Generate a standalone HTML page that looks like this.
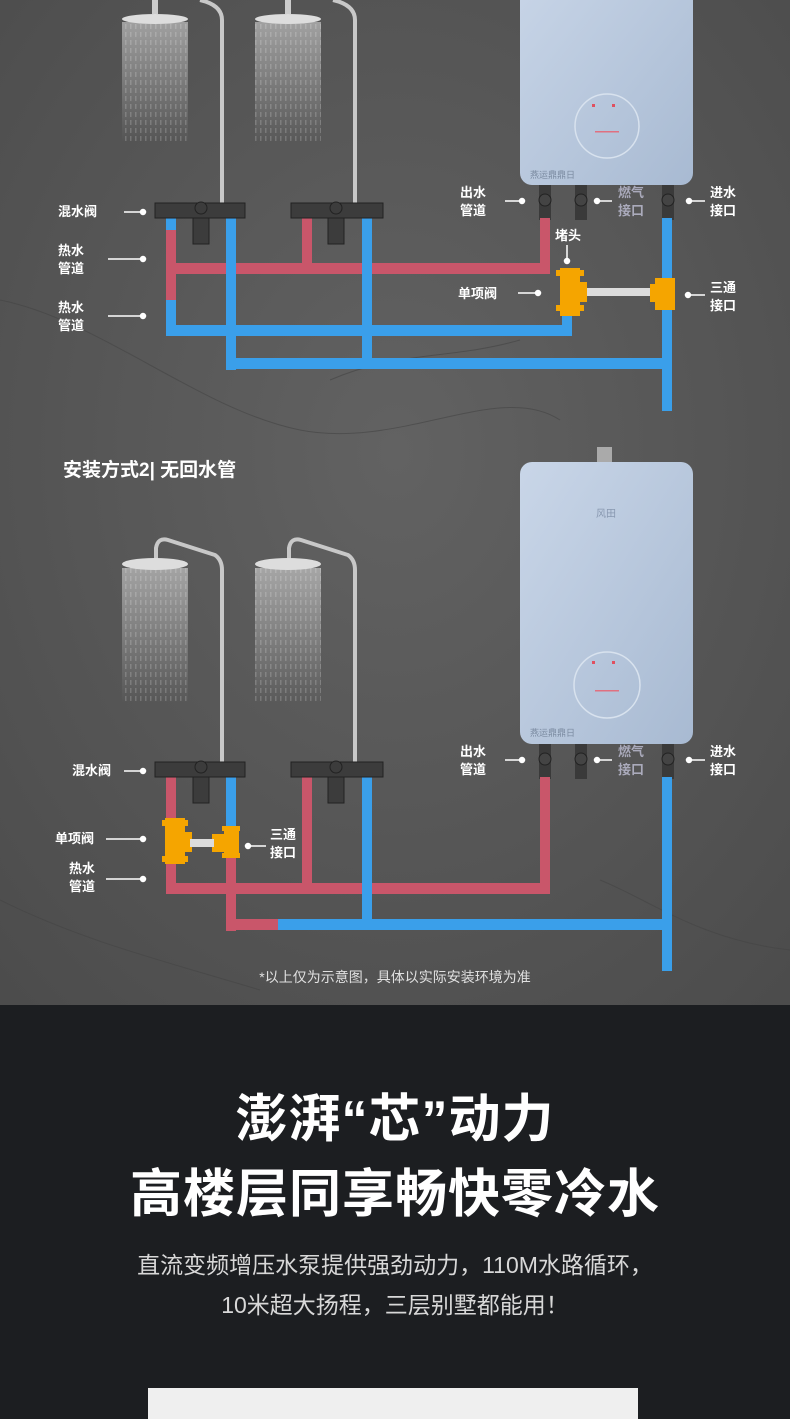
<!DOCTYPE html>
<html><head><meta charset="utf-8"><style>
*{margin:0;padding:0}
body{width:790px;height:1419px;overflow:hidden;background:#1c1e21;font-family:"Liberation Sans","Noto Sans CJK SC",sans-serif}
.dk{position:absolute;left:0;top:1005px;width:790px;height:414px;background:#1c1e21}
.t{position:absolute;left:0;width:790px;text-align:center;color:#fff;font-weight:bold;font-size:52px;letter-spacing:1px;line-height:60px}
.s{position:absolute;left:0;width:790px;text-align:center;color:#d8d8d8;font-size:23px;line-height:30px}
</style></head><body>
<svg width="790" height="1005" style="position:absolute;left:0;top:0" font-family="Liberation Sans, Noto Sans CJK SC, sans-serif">
<defs>
<radialGradient id="bg" cx="0.5" cy="0.45" r="0.8"><stop offset="0" stop-color="#626262"/><stop offset="1" stop-color="#4a4a4a"/></radialGradient>
<linearGradient id="ht" x1="0" y1="0" x2="1" y2="1"><stop offset="0" stop-color="#c9d6e8"/><stop offset="1" stop-color="#a8bad2"/></linearGradient>
<linearGradient id="rain" x1="0" y1="0" x2="0" y2="1"><stop offset="0" stop-color="#fff" stop-opacity="0.45"/><stop offset="1" stop-color="#fff" stop-opacity="0"/></linearGradient>
<pattern id="drops" width="5" height="8" patternUnits="userSpaceOnUse"><rect width="1.5" height="5" fill="#fff" opacity="0.5"/></pattern>
</defs>
<rect width="790" height="1005" fill="url(#bg)"/>
<g fill="none" stroke="#444" stroke-width="1" opacity="0.6">
<path d="M0 300 C100 320 200 410 300 430 S500 380 560 420"/>
<path d="M330 380 C400 350 450 360 520 340"/>
<path d="M0 900 C80 940 160 960 260 990"/>
<path d="M600 880 C650 900 700 940 790 950"/>
</g>

<rect x="122" y="22" width="66" height="120" fill="url(#rain)"/>
<rect x="122" y="22" width="66" height="120" fill="url(#drops)" opacity="0.35"/>
<rect x="255" y="22" width="66" height="120" fill="url(#rain)"/>
<rect x="255" y="22" width="66" height="120" fill="url(#drops)" opacity="0.35"/>
<rect x="152" y="0" width="6" height="14" fill="#ccc"/>
<ellipse cx="155" cy="19" rx="33" ry="5" fill="#ddd"/>
<rect x="285" y="0" width="6" height="14" fill="#ccc"/>
<ellipse cx="288" cy="19" rx="33" ry="5" fill="#ddd"/>
<path d="M200 0 Q222 5 222 20 L222 205" stroke="#c8c8c8" stroke-width="4" fill="none"/>
<path d="M333 0 Q355 5 355 20 L355 205" stroke="#c8c8c8" stroke-width="4" fill="none"/>
<rect x="520" y="-40" width="173" height="225" rx="12" fill="url(#ht)"/>
<circle cx="607" cy="126" r="32" fill="none" stroke="#d8e2ee" stroke-width="1.5"/>
<rect x="592" y="104" width="3" height="3" fill="#e05060"/><rect x="612" y="104" width="3" height="3" fill="#e05060"/>
<rect x="595" y="131" width="24" height="1.5" fill="#e07080"/>
<text x="530" y="178" font-size="9" fill="#7a8aa0">燕运鼎鼎日</text>
<g fill="#3a3a3a"><rect x="539" y="185" width="12" height="35"/><rect x="575" y="185" width="12" height="35"/><rect x="662" y="185" width="12" height="35"/></g>
<g fill="#444" stroke="#222"><circle cx="545" cy="200" r="6"/><circle cx="581" cy="200" r="6"/><circle cx="668" cy="200" r="6"/></g>
<g fill="#c9566a">
<rect x="166" y="230" width="10" height="72"/>
<rect x="166" y="263" width="384" height="11"/>
<rect x="540" y="218" width="10" height="56"/>
<rect x="302" y="218" width="10" height="50"/>
</g>
<g fill="#3a9fea">
<rect x="166" y="218" width="10" height="12"/>
<rect x="166" y="300" width="10" height="36"/>
<rect x="166" y="325" width="406" height="11"/>
<rect x="562" y="310" width="10" height="26"/>
<rect x="226" y="218" width="10" height="152"/>
<rect x="362" y="218" width="10" height="148"/>
<rect x="226" y="358" width="446" height="11"/>
<rect x="662" y="218" width="10" height="193"/>
</g>
<g fill="#3c3c3c" stroke="#222" stroke-width="1">
<rect x="155" y="203" width="90" height="15"/><rect x="193" y="218" width="16" height="26"/><circle cx="201" cy="208" r="6"/>
<rect x="291" y="203" width="92" height="15"/><rect x="328" y="218" width="16" height="26"/><circle cx="336" cy="208" r="6"/>
</g>
<g fill="#f5a500">
<rect x="560" y="268" width="20" height="48"/><rect x="556" y="270" width="28" height="6"/><rect x="556" y="305" width="28" height="6"/><rect x="575" y="282" width="12" height="20"/>
<rect x="655" y="278" width="20" height="32"/><rect x="650" y="284" width="10" height="18"/>
</g>
<rect x="587" y="288" width="63" height="8" fill="#dcdcdc"/>
<g font-size="13" fill="#fff" font-weight="bold">
<text x="58" y="216">混水阀</text>
<text x="58" y="255">热水</text><text x="58" y="273">管道</text>
<text x="58" y="312">热水</text><text x="58" y="330">管道</text>
<text x="460" y="197">出水</text><text x="460" y="215">管道</text>
<text x="618" y="197" fill="#aab">燃气</text><text x="618" y="215" fill="#aab">接口</text>
<text x="710" y="197">进水</text><text x="710" y="215">接口</text>
<text x="555" y="240">堵头</text>
<text x="458" y="298">单项阀</text>
<text x="710" y="292">三通</text><text x="710" y="310">接口</text>
</g>
<g stroke="#fff" stroke-width="1.5" fill="#fff">
<line x1="124" y1="212" x2="143" y2="212"/><circle cx="143" cy="212" r="2.5"/>
<line x1="108" y1="259" x2="143" y2="259"/><circle cx="143" cy="259" r="2.5"/>
<line x1="108" y1="316" x2="143" y2="316"/><circle cx="143" cy="316" r="2.5"/>
<line x1="505" y1="201" x2="522" y2="201"/><circle cx="522" cy="201" r="2.5"/>
<line x1="597" y1="201" x2="612" y2="201"/><circle cx="597" cy="201" r="2.5"/>
<line x1="689" y1="201" x2="705" y2="201"/><circle cx="689" cy="201" r="2.5"/>
<line x1="567" y1="245" x2="567" y2="261"/><circle cx="567" cy="261" r="2.5"/>
<line x1="518" y1="293" x2="538" y2="293"/><circle cx="538" cy="293" r="2.5"/>
<line x1="688" y1="295" x2="705" y2="295"/><circle cx="688" cy="295" r="2.5"/>
</g>

<text x="63" y="476" font-size="19" font-weight="bold" fill="#fff">安装方式2| 无回水管</text>
<rect x="597" y="447" width="15" height="16" fill="#aaa"/>
<rect x="520" y="462" width="173" height="282" rx="12" fill="url(#ht)"/>
<text x="596" y="517" font-size="10" fill="#8898b0">风田</text>
<circle cx="607" cy="685" r="33" fill="none" stroke="#d8e2ee" stroke-width="1.5"/>
<rect x="592" y="661" width="3" height="3" fill="#e05060"/><rect x="612" y="661" width="3" height="3" fill="#e05060"/>
<rect x="595" y="690" width="24" height="1.5" fill="#e07080"/>
<text x="530" y="736" font-size="9" fill="#7a8aa0">燕运鼎鼎日</text>
<rect x="122" y="568" width="66" height="135" fill="url(#rain)"/>
<rect x="122" y="568" width="66" height="135" fill="url(#drops)" opacity="0.35"/>
<rect x="255" y="568" width="66" height="135" fill="url(#rain)"/>
<rect x="255" y="568" width="66" height="135" fill="url(#drops)" opacity="0.35"/>
<path d="M156 560 L156 548 Q158 537 168 540 L215 555 Q222 560 222 570 L222 764" stroke="#c8c8c8" stroke-width="4" fill="none"/>
<path d="M289 560 L289 548 Q291 537 301 540 L348 555 Q355 560 355 570 L355 764" stroke="#c8c8c8" stroke-width="4" fill="none"/>
<ellipse cx="155" cy="564" rx="33" ry="6" fill="#ddd"/>
<ellipse cx="288" cy="564" rx="33" ry="6" fill="#ddd"/>
<g fill="#3a3a3a"><rect x="539" y="744" width="12" height="35"/><rect x="575" y="744" width="12" height="35"/><rect x="662" y="744" width="12" height="35"/></g>
<g fill="#444" stroke="#222"><circle cx="545" cy="759" r="6"/><circle cx="581" cy="759" r="6"/><circle cx="668" cy="759" r="6"/></g>
<g fill="#c9566a">
<rect x="166" y="777" width="10" height="117"/>
<rect x="166" y="883" width="384" height="11"/>
<rect x="540" y="777" width="10" height="117"/>
<rect x="302" y="777" width="10" height="110"/>
<rect x="226" y="840" width="10" height="91"/>
<rect x="226" y="919" width="54" height="11"/>
</g>
<g fill="#3a9fea">
<rect x="226" y="777" width="10" height="63"/>
<rect x="362" y="777" width="10" height="150"/>
<rect x="278" y="919" width="394" height="11"/>
<rect x="662" y="777" width="10" height="194"/>
</g>
<g fill="#3c3c3c" stroke="#222" stroke-width="1">
<rect x="155" y="762" width="90" height="15"/><rect x="193" y="777" width="16" height="26"/><circle cx="201" cy="767" r="6"/>
<rect x="291" y="762" width="92" height="15"/><rect x="328" y="777" width="16" height="26"/><circle cx="336" cy="767" r="6"/>
</g>
<g fill="#f5a500">
<rect x="165" y="818" width="20" height="46"/><rect x="162" y="820" width="26" height="6"/><rect x="162" y="856" width="26" height="6"/><rect x="180" y="832" width="12" height="20"/>
<rect x="224" y="826" width="15" height="32"/><rect x="212" y="834" width="14" height="18"/><rect x="222" y="826" width="18" height="5"/><rect x="222" y="853" width="18" height="5"/>
</g>
<rect x="190" y="839" width="24" height="8" fill="#dcdcdc"/>
<g font-size="13" fill="#fff" font-weight="bold">
<text x="72" y="775">混水阀</text>
<text x="55" y="843">单项阀</text>
<text x="69" y="873">热水</text><text x="69" y="891">管道</text>
<text x="270" y="839">三通</text><text x="270" y="857">接口</text>
<text x="460" y="756">出水</text><text x="460" y="774">管道</text>
<text x="618" y="756" fill="#aab">燃气</text><text x="618" y="774" fill="#aab">接口</text>
<text x="710" y="756">进水</text><text x="710" y="774">接口</text>
</g>
<g stroke="#fff" stroke-width="1.5" fill="#fff">
<line x1="124" y1="771" x2="143" y2="771"/><circle cx="143" cy="771" r="2.5"/>
<line x1="106" y1="839" x2="143" y2="839"/><circle cx="143" cy="839" r="2.5"/>
<line x1="106" y1="879" x2="143" y2="879"/><circle cx="143" cy="879" r="2.5"/>
<line x1="248" y1="846" x2="266" y2="846"/><circle cx="248" cy="846" r="2.5"/>
<line x1="505" y1="760" x2="522" y2="760"/><circle cx="522" cy="760" r="2.5"/>
<line x1="597" y1="760" x2="612" y2="760"/><circle cx="597" cy="760" r="2.5"/>
<line x1="689" y1="760" x2="705" y2="760"/><circle cx="689" cy="760" r="2.5"/>
</g>
<text x="395" y="982" font-size="14" fill="#e0e0e0" text-anchor="middle">*以上仅为示意图，具体以实际安装环境为准</text>
</svg>
<div class="dk"></div>
<div class="t" style="top:1090px">澎湃“芯”动力</div>
<div class="t" style="top:1165px">高楼层同享畅快零冷水</div>
<div class="s" style="top:1250px">直流变频增压水泵提供强劲动力，110M水路循环，</div>
<div class="s" style="top:1290px">10米超大扬程，三层别墅都能用！</div>
<div style="position:absolute;left:148px;top:1388px;width:490px;height:31px;background:#efefef"></div>
</body></html>
